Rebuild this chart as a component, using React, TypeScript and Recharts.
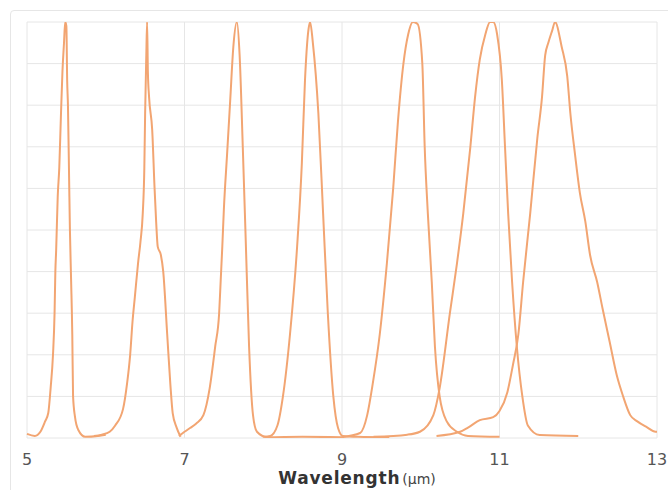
import React from "react";
import { LineChart, Line, XAxis, YAxis, CartesianGrid } from "recharts";

// Wavelength (µm) and relative transmission (%) for each filter
const f1X = [5.0, 5.1, 5.17, 5.23, 5.27, 5.3, 5.33, 5.35, 5.36, 5.37, 5.39, 5.41, 5.43, 5.45, 5.47, 5.485, 5.5, 5.51, 5.52, 5.535, 5.545, 5.56, 5.575, 5.585, 5.61, 5.65, 5.74, 5.9, 6.0];
const f1Y = [1, 0.5, 1.5, 4, 6, 12, 20, 30, 40, 45, 58, 65, 77, 88, 95, 100, 99, 86, 80, 62, 50, 38, 25, 10, 5, 2, 0.3, 0.5, 0.8];

const f2X = [5.85, 5.95, 6.05, 6.12, 6.22, 6.27, 6.31, 6.34, 6.37, 6.41, 6.44, 6.47, 6.49, 6.5, 6.515, 6.525, 6.535, 6.55, 6.59, 6.62, 6.64, 6.66, 6.7, 6.73, 6.78, 6.82, 6.85, 6.9, 6.95];
const f2Y = [0.5, 0.8, 1.5, 3, 7, 13, 20, 28, 34, 42, 47, 54, 65, 78, 92, 100, 88, 82, 74, 60, 52, 46, 44, 40, 25, 13, 6, 2.5, 0.3];

const f3X = [6.93, 7.0, 7.07, 7.15, 7.24, 7.32, 7.39, 7.44, 7.46, 7.48, 7.5, 7.54, 7.58, 7.62, 7.665, 7.7, 7.74, 7.78, 7.82, 7.87, 7.92, 8.05, 8.5, 9.0];
const f3Y = [0.5, 1.5, 2.4, 3.5, 5.5, 12, 22, 30, 38, 46, 55, 68, 81, 94, 100, 92, 70, 46, 22, 5.5, 1.5, 0.2, 0.3, 0.2];

const f4X = [8.0, 8.09, 8.18, 8.25, 8.34, 8.43, 8.49, 8.53, 8.57, 8.595, 8.63, 8.7, 8.76, 8.82, 8.89, 8.95, 9.01, 9.2, 9.6];
const f4Y = [0.3, 0.5, 3, 10, 25, 46, 66, 86, 97.5, 100, 95, 78, 54, 30, 10, 2.4, 0.5, 0.3, 0.2];

const f5X = [9.0, 9.23, 9.32, 9.39, 9.48, 9.57, 9.65, 9.71, 9.78, 9.84, 9.9, 9.96, 10.02, 10.05, 10.09, 10.14, 10.18, 10.24, 10.33, 10.46, 10.6, 11.0];
const f5Y = [0.2, 1.2, 5.5, 13, 25, 42, 60, 76, 90, 97, 100, 99.5, 90, 70, 54, 37.5, 22, 10, 4, 1.5, 0.5, 0.3];

const f6X = [9.4, 9.83, 9.99, 10.16, 10.24, 10.37, 10.46, 10.54, 10.63, 10.69, 10.75, 10.82, 10.88, 10.92, 10.97, 11.03, 11.07, 11.11, 11.16, 11.22, 11.29, 11.36, 11.51, 12.0];
const f6Y = [0.3, 0.8, 1.5, 5.5, 12, 30, 42, 54, 70, 82, 91, 97, 100, 100, 97, 86, 70, 54, 37.5, 22, 10, 3, 0.7, 0.5];

const f7X = [10.2, 10.5, 10.6, 10.75, 10.92, 11.0, 11.1, 11.17, 11.24, 11.3, 11.39, 11.48, 11.54, 11.58, 11.62, 11.67, 11.705, 11.79, 11.86, 11.9, 11.96, 12.02, 12.09, 12.15, 12.24, 12.31, 12.4, 12.49, 12.57, 12.66, 12.75, 12.87, 12.98, 13.0];
const f7Y = [0.5, 1.5, 2.5, 4.3, 5, 6.5, 11, 17.5, 25, 37.5, 54, 72, 82, 92, 95, 98, 100, 94, 87, 78, 68, 59, 52, 44, 37.5, 31, 23, 15, 10, 5.5, 4, 2.6, 1.5, 1.5];

const xTicks = [5, 7, 9, 11, 13];
const yTicks = [0, 10, 20, 30, 40, 50, 60, 70, 80, 90, 100];

const filters = [
  { xs: f1X, ys: f1Y },
  { xs: f2X, ys: f2Y },
  { xs: f3X, ys: f3Y },
  { xs: f4X, ys: f4Y },
  { xs: f5X, ys: f5Y },
  { xs: f6X, ys: f6Y },
  { xs: f7X, ys: f7Y },
].map((f) => f.xs.map((x, i) => ({ x, y: f.ys[i] })));

const COLOR = "#F2A572";
const FONT = "'DejaVu Sans', sans-serif";

const AxisTitle = (props: any) => {
  const vb = props.viewBox || {};
  const cx = vb.x + vb.width / 2 + 15;
  return (
    <text x={cx} y={484} textAnchor="middle" fontFamily={FONT}>
      <tspan fontWeight="bold" fontSize={17} letterSpacing={0.8} fill="#333">Wavelength</tspan>
      <tspan fontSize={14} fill="#444" dx={2}>(µm)</tspan>
    </text>
  );
};

export default function App() {
  return (
    <div style={{ position: "absolute", left: 0, top: 0, width: 668, height: 490, background: "#fff", overflow: "hidden" }}>
      <div
        style={{
          position: "absolute",
          left: 10,
          top: 10,
          width: 700,
          height: 520,
          border: "1px solid #e6e6e6",
          borderRadius: 4,
          boxSizing: "border-box",
        }}
      />
      <div style={{ position: "absolute", left: 0, top: 0 }}>
        <LineChart width={668} height={490} margin={{ top: 22, right: 11, left: 27, bottom: 0 }}>
          <CartesianGrid stroke="#e6e6e6" strokeWidth={1} />
          <XAxis
            dataKey="x"
            type="number"
            domain={[5, 13]}
            ticks={xTicks}
            allowDuplicatedCategory={false}
            axisLine={false}
            tickLine={false}
            height={52}
            tickMargin={10}
            tick={{ fill: "#555", fontSize: 16, fontFamily: FONT }}
            label={<AxisTitle />}
          />
          <YAxis type="number" domain={[0, 100]} ticks={yTicks} hide allowDataOverflow />
          {filters.map((d, i) => (
            <Line
              key={i}
              data={d}
              dataKey="y"
              type="monotoneX"
              stroke={COLOR}
              strokeWidth={2}
              dot={false}
              isAnimationActive={false}
            />
          ))}
        </LineChart>
      </div>
    </div>
  );
}
